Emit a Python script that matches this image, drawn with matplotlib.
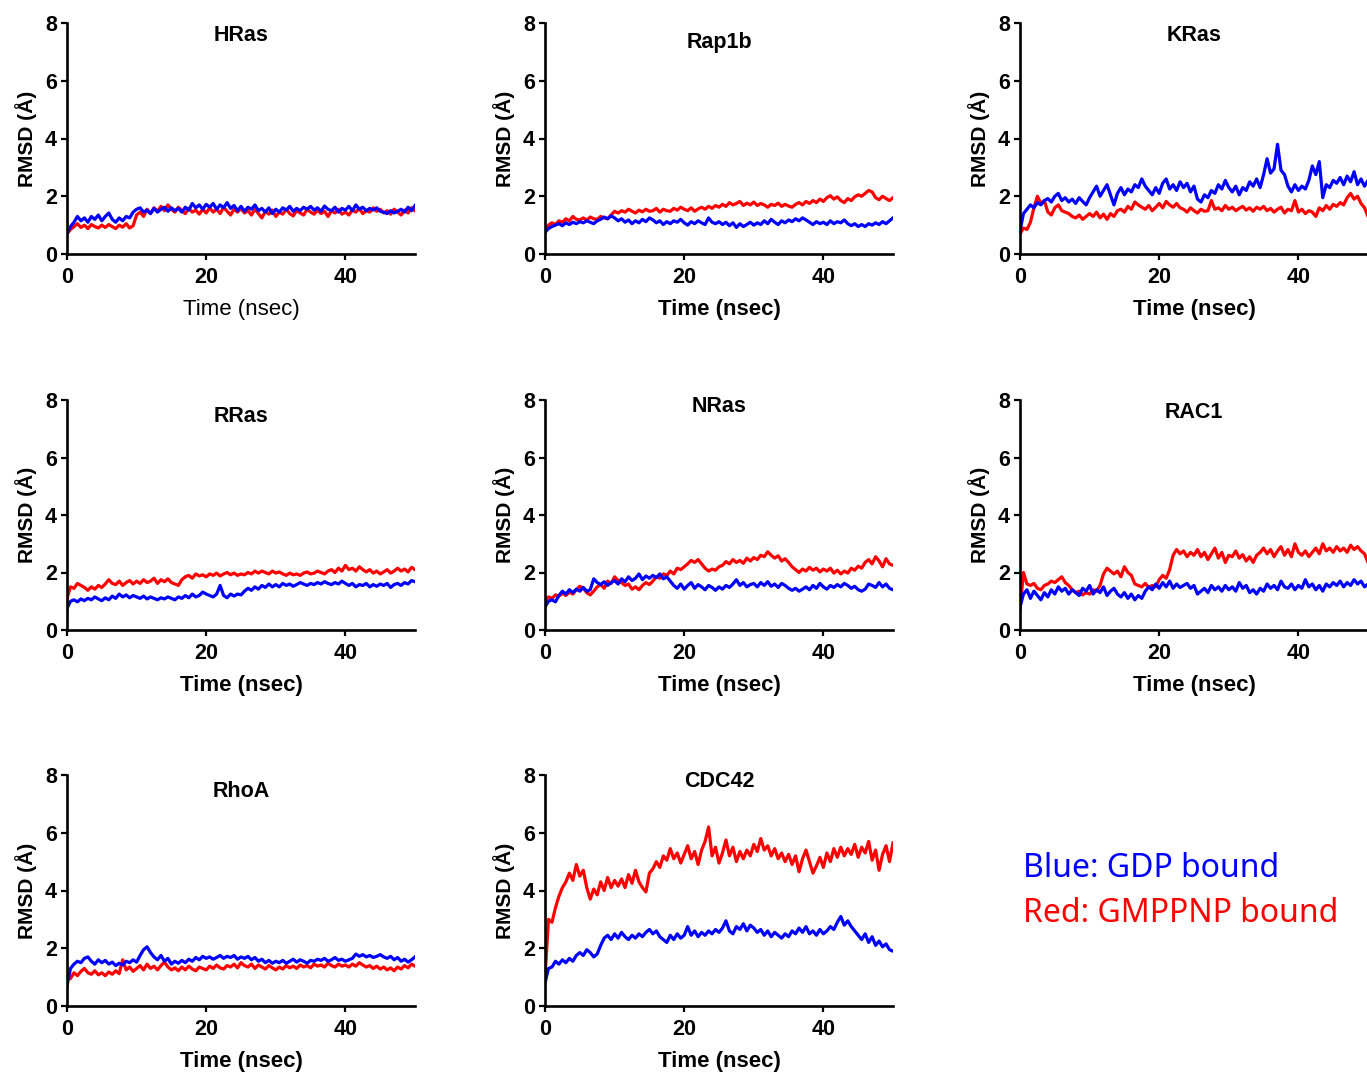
import numpy as np
import matplotlib.pyplot as plt

plt.rcParams['font.family'] = ['Liberation Sans', 'DejaVu Sans']

# time axis of the trajectories, one sample every 0.5 ns
time_ns = np.arange(0, 50.01, 0.5)

proteins = ['HRas', 'Rap1b', 'KRas', 'RRas', 'NRas', 'RAC1', 'RhoA', 'CDC42']

# RMSD (A), blue = GDP bound, red = GMPPNP bound
hras_gdp = [0.70, 0.95, 1.10, 1.30, 1.15, 1.25, 1.10, 1.30, 1.20, 1.35, 1.15,
            1.30, 1.42, 1.20, 1.10, 1.25, 1.15, 1.30, 1.25, 1.45, 1.55,
            1.60, 1.45, 1.52, 1.40, 1.58, 1.45, 1.55, 1.62, 1.48, 1.60,
            1.50, 1.58, 1.45, 1.62, 1.52, 1.75, 1.60, 1.70, 1.55, 1.72,
            1.62, 1.75, 1.55, 1.70, 1.60, 1.78, 1.58, 1.68, 1.50, 1.65,
            1.48, 1.62, 1.55, 1.70, 1.50, 1.58, 1.45, 1.60, 1.40, 1.55,
            1.45, 1.60, 1.52, 1.65, 1.48, 1.58, 1.50, 1.62, 1.55, 1.65,
            1.52, 1.60, 1.48, 1.66, 1.55, 1.50, 1.62, 1.45, 1.58, 1.52,
            1.65, 1.50, 1.70, 1.55, 1.62, 1.50, 1.58, 1.52, 1.60, 1.48,
            1.45, 1.40, 1.50, 1.42, 1.48, 1.55, 1.45, 1.62, 1.50, 1.68]
hras_gmppnp = [0.70, 0.85, 0.95, 1.05, 0.92, 1.00, 0.88, 1.02, 0.95, 0.90, 1.00,
               0.92, 1.02, 0.95, 0.88, 1.00, 0.93, 1.05, 0.90, 0.98, 1.35,
               1.45, 1.30, 1.55, 1.40, 1.60, 1.48, 1.65, 1.50, 1.70, 1.55,
               1.45, 1.62, 1.50, 1.40, 1.58, 1.45, 1.52, 1.38, 1.55, 1.42,
               1.60, 1.45, 1.55, 1.40, 1.62, 1.48, 1.35, 1.55, 1.45, 1.58,
               1.42, 1.50, 1.35, 1.55, 1.40, 1.25, 1.48, 1.38, 1.52, 1.30,
               1.45, 1.38, 1.55, 1.40, 1.32, 1.50, 1.42, 1.35, 1.55, 1.45,
               1.38, 1.52, 1.40, 1.48, 1.30, 1.50, 1.42, 1.55, 1.38, 1.45,
               1.35, 1.52, 1.45, 1.58, 1.40, 1.50, 1.45, 1.60, 1.48, 1.55,
               1.42, 1.50, 1.38, 1.55, 1.45, 1.35, 1.52, 1.42, 1.60, 1.50]

rap1b_gdp = [0.75, 0.88, 0.95, 1.00, 1.05, 0.98, 1.08, 1.02, 1.10, 1.05, 1.12,
             1.08, 1.15, 1.10, 1.05, 1.15, 1.20, 1.28, 1.22, 1.32, 1.25,
             1.15, 1.22, 1.10, 1.18, 1.05, 1.15, 1.08, 1.20, 1.12, 1.25,
             1.18, 1.08, 1.15, 1.02, 1.12, 1.05, 1.15, 1.10, 1.20, 1.08,
             1.00, 1.12, 1.05, 1.15, 1.08, 1.02, 1.25, 1.10, 1.05, 1.12,
             1.02, 1.10, 0.98, 1.08, 0.92, 1.05, 0.95, 1.02, 1.10, 1.00,
             1.08, 1.02, 1.15, 1.05, 1.20, 1.10, 1.02, 1.15, 1.08, 1.18,
             1.12, 1.22, 1.15, 1.25, 1.18, 1.10, 1.02, 1.12, 1.05, 1.10,
             1.02, 1.15, 1.05, 1.12, 1.08, 1.18, 1.05, 0.98, 1.05, 0.95,
             1.02, 0.95, 1.05, 1.00, 1.08, 1.02, 1.12, 1.05, 1.15, 1.25]
rap1b_gmppnp = [0.80, 1.00, 1.08, 1.02, 1.15, 1.10, 1.22, 1.15, 1.30, 1.20, 1.18,
                1.25, 1.18, 1.28, 1.22, 1.20, 1.30, 1.25, 1.22, 1.35, 1.48,
                1.42, 1.50, 1.45, 1.55, 1.48, 1.42, 1.52, 1.46, 1.55, 1.48,
                1.50, 1.58, 1.45, 1.55, 1.50, 1.48, 1.58, 1.52, 1.62, 1.55,
                1.50, 1.60, 1.48, 1.56, 1.62, 1.55, 1.65, 1.58, 1.68, 1.62,
                1.72, 1.65, 1.78, 1.70, 1.75, 1.82, 1.68, 1.76, 1.70, 1.80,
                1.68, 1.75, 1.70, 1.62, 1.72, 1.68, 1.76, 1.65, 1.72, 1.66,
                1.62, 1.72, 1.78, 1.70, 1.82, 1.75, 1.85, 1.78, 1.90, 1.82,
                1.95, 2.02, 1.90, 1.98, 1.85, 1.78, 1.92, 1.85, 1.98, 2.05,
                2.00, 2.10, 2.20, 2.15, 1.95, 1.88, 2.00, 1.92, 1.85, 1.95]

kras_gdp = [0.80, 1.40, 1.55, 1.70, 1.60, 1.78, 1.70, 1.85, 1.92, 1.80, 2.00,
            2.10, 1.85, 1.95, 1.80, 1.90, 1.75, 1.95, 1.82, 1.70, 1.95,
            2.15, 2.35, 2.00, 2.20, 2.40, 2.05, 1.70, 2.10, 2.30, 2.05,
            2.25, 2.15, 2.40, 2.30, 2.60, 2.35, 2.20, 2.05, 2.30, 2.10,
            2.45, 2.60, 2.25, 2.40, 2.20, 2.50, 2.30, 2.45, 2.15, 2.35,
            1.90, 1.80, 2.05, 1.95, 2.20, 2.10, 2.40, 2.25, 2.55, 2.30,
            2.15, 2.35, 2.05, 2.30, 2.20, 2.50, 2.35, 2.60, 2.30, 2.75,
            3.30, 2.80, 2.95, 3.80, 2.90, 2.75, 2.35, 2.15, 2.40, 2.20,
            2.35, 2.25, 2.55, 3.05, 2.75, 3.20, 1.95, 2.40, 2.30, 2.55,
            2.45, 2.65, 2.40, 2.70, 2.50, 2.85, 2.40, 2.60, 2.35, 2.55]
kras_gmppnp = [0.70, 0.90, 0.85, 1.10, 1.60, 2.00, 1.75, 1.85, 1.45, 1.35, 1.60,
               1.70, 1.50, 1.45, 1.40, 1.30, 1.25, 1.35, 1.20, 1.30, 1.40,
               1.30, 1.45, 1.25, 1.38, 1.20, 1.40, 1.30, 1.50, 1.55, 1.45,
               1.65, 1.55, 1.80, 1.70, 1.62, 1.55, 1.68, 1.50, 1.62, 1.75,
               1.60, 1.82, 1.70, 1.62, 1.75, 1.60, 1.55, 1.45, 1.60, 1.50,
               1.42, 1.55, 1.48, 1.50, 1.85, 1.55, 1.60, 1.50, 1.68, 1.55,
               1.62, 1.50, 1.58, 1.65, 1.52, 1.60, 1.48, 1.62, 1.55, 1.65,
               1.50, 1.58, 1.45, 1.55, 1.62, 1.42, 1.55, 1.50, 1.85, 1.45,
               1.55, 1.40, 1.50, 1.45, 1.30, 1.60, 1.50, 1.68, 1.55, 1.72,
               1.65, 1.78, 1.70, 1.95, 2.10, 1.90, 2.00, 1.75, 1.60, 1.30]

rras_gdp = [0.75, 1.00, 1.05, 0.98, 1.08, 1.02, 1.10, 1.05, 1.15, 1.08, 1.02,
            1.12, 1.05, 1.18, 1.10, 1.25, 1.15, 1.22, 1.12, 1.20, 1.15,
            1.10, 1.18, 1.08, 1.15, 1.10, 1.05, 1.12, 1.08, 1.15, 1.10,
            1.05, 1.15, 1.10, 1.20, 1.12, 1.25, 1.15, 1.20, 1.32, 1.25,
            1.20, 1.15, 1.25, 1.55, 1.20, 1.12, 1.25, 1.18, 1.25, 1.22,
            1.35, 1.45, 1.38, 1.50, 1.42, 1.55, 1.48, 1.60, 1.50, 1.58,
            1.50, 1.62, 1.55, 1.60, 1.52, 1.58, 1.65, 1.60, 1.55, 1.62,
            1.58, 1.65, 1.60, 1.68, 1.62, 1.58, 1.65, 1.60, 1.70, 1.62,
            1.55, 1.62, 1.50, 1.58, 1.55, 1.62, 1.50, 1.58, 1.52, 1.60,
            1.55, 1.62, 1.48, 1.58, 1.62, 1.55, 1.65, 1.60, 1.72, 1.68]
rras_gmppnp = [1.10, 1.50, 1.45, 1.62, 1.55, 1.48, 1.38, 1.50, 1.42, 1.55, 1.48,
               1.60, 1.75, 1.62, 1.58, 1.70, 1.55, 1.65, 1.72, 1.60, 1.70,
               1.62, 1.75, 1.65, 1.70, 1.80, 1.62, 1.75, 1.68, 1.78, 1.65,
               1.60, 1.55, 1.75, 1.85, 1.90, 1.80, 1.95, 1.88, 1.92, 1.85,
               1.95, 1.90, 1.98, 1.88, 1.95, 2.00, 1.92, 1.98, 1.90, 1.95,
               1.92, 2.00, 1.95, 2.05, 1.98, 2.05, 2.00, 1.95, 2.05, 1.98,
               2.02, 1.95, 1.90, 1.98, 1.92, 1.95, 1.90, 1.98, 2.02, 1.95,
               1.98, 2.05, 2.00, 1.95, 2.05, 2.10, 2.00, 2.15, 2.05, 2.25,
               2.10, 2.15, 2.05, 2.20, 2.10, 2.02, 2.10, 1.98, 2.05, 1.95,
               2.02, 2.10, 1.98, 2.05, 2.15, 2.05, 2.12, 2.02, 2.18, 2.10]

nras_gdp = [0.80, 1.00, 1.05, 0.98, 1.20, 1.35, 1.25, 1.40, 1.30, 1.42, 1.35,
            1.48, 1.35, 1.40, 1.78, 1.65, 1.58, 1.68, 1.55, 1.65, 1.72,
            1.60, 1.78, 1.68, 1.85, 1.72, 1.80, 1.95, 1.75, 1.88, 1.80,
            1.90, 1.82, 1.95, 1.78, 1.85, 1.70, 1.55, 1.45, 1.60, 1.42,
            1.55, 1.65, 1.45, 1.58, 1.50, 1.40, 1.55, 1.48, 1.38, 1.50,
            1.42, 1.55, 1.48, 1.60, 1.75, 1.55, 1.65, 1.50, 1.58, 1.62,
            1.50, 1.65, 1.55, 1.68, 1.52, 1.60, 1.48, 1.62, 1.55, 1.45,
            1.38, 1.45, 1.35, 1.42, 1.50, 1.40, 1.55, 1.45, 1.62, 1.50,
            1.42, 1.55, 1.48, 1.58, 1.50, 1.62, 1.55, 1.45, 1.52, 1.40,
            1.35, 1.42, 1.60, 1.55, 1.48, 1.65, 1.50, 1.60, 1.45, 1.40]
nras_gmppnp = [1.00, 1.15, 1.10, 1.22, 1.18, 1.28, 1.20, 1.32, 1.25, 1.40, 1.52,
               1.45, 1.30, 1.22, 1.35, 1.50, 1.58, 1.45, 1.70, 1.62, 1.85,
               1.72, 1.65, 1.55, 1.60, 1.42, 1.50, 1.40, 1.55, 1.65, 1.58,
               1.70, 1.85, 1.80, 1.95, 1.90, 2.05, 1.95, 2.15, 2.10, 2.20,
               2.30, 2.42, 2.35, 2.45, 2.30, 2.15, 2.05, 2.12, 2.08, 2.20,
               2.25, 2.38, 2.30, 2.45, 2.35, 2.42, 2.32, 2.50, 2.40, 2.52,
               2.45, 2.60, 2.55, 2.72, 2.60, 2.50, 2.58, 2.40, 2.48, 2.35,
               2.20, 2.10, 2.00, 2.12, 2.05, 2.18, 2.08, 2.15, 2.02, 2.12,
               2.05, 2.15, 1.98, 2.08, 1.95, 2.05, 1.98, 2.15, 2.08, 2.22,
               2.15, 2.35, 2.45, 2.30, 2.55, 2.40, 2.20, 2.48, 2.30, 2.25]

rac1_gdp = [0.80, 1.25, 1.40, 1.10, 1.35, 1.20, 1.05, 1.30, 1.15, 1.40, 1.25,
            1.50, 1.35, 1.45, 1.25, 1.40, 1.30, 1.20, 1.45, 1.35, 1.55,
            1.25, 1.40, 1.30, 1.50, 1.20, 1.35, 1.45, 1.25, 1.15, 1.30,
            1.10, 1.25, 1.05, 1.20, 1.10, 1.35, 1.50, 1.40, 1.60, 1.45,
            1.65, 1.50, 1.70, 1.45, 1.60, 1.48, 1.55, 1.62, 1.45, 1.55,
            1.25, 1.35, 1.45, 1.30, 1.55, 1.40, 1.50, 1.35, 1.55, 1.40,
            1.50, 1.35, 1.65, 1.45, 1.55, 1.30, 1.40, 1.25, 1.45, 1.35,
            1.60, 1.45, 1.55, 1.40, 1.70, 1.50, 1.45, 1.60, 1.40, 1.55,
            1.45, 1.75, 1.50, 1.60, 1.40, 1.55, 1.35, 1.60, 1.50, 1.65,
            1.55, 1.70, 1.50, 1.65, 1.55, 1.75, 1.60, 1.70, 1.50, 1.60]
rac1_gmppnp = [0.70, 2.00, 1.60, 1.55, 1.62, 1.45, 1.40, 1.55, 1.60, 1.70, 1.65,
               1.75, 1.85, 1.65, 1.55, 1.40, 1.30, 1.35, 1.22, 1.30, 1.25,
               1.40, 1.35, 1.55, 1.95, 2.15, 2.05, 1.95, 2.05, 1.85, 2.20,
               2.00, 1.90, 1.60, 1.55, 1.50, 1.62, 1.48, 1.55, 1.50, 1.75,
               1.90, 1.80, 2.10, 2.60, 2.80, 2.65, 2.75, 2.55, 2.70, 2.60,
               2.80, 2.55, 2.70, 2.45, 2.65, 2.85, 2.50, 2.70, 2.35, 2.60,
               2.55, 2.75, 2.50, 2.62, 2.40, 2.55, 2.35, 2.60, 2.70, 2.85,
               2.65, 2.80, 2.55, 2.75, 2.90, 2.60, 2.80, 2.55, 3.00, 2.70,
               2.60, 2.75, 2.55, 2.70, 2.85, 2.65, 3.00, 2.75, 2.85, 2.70,
               2.90, 2.75, 2.85, 2.70, 2.95, 2.80, 2.90, 2.75, 2.65, 2.35]

rhoa_gdp = [0.70, 1.30, 1.45, 1.55, 1.50, 1.65, 1.70, 1.55, 1.45, 1.60, 1.50,
            1.58, 1.45, 1.52, 1.40, 1.48, 1.42, 1.55, 1.50, 1.60, 1.52,
            1.75, 1.95, 2.05, 1.85, 1.70, 1.60, 1.75, 1.55, 1.65, 1.45,
            1.55, 1.48, 1.58, 1.50, 1.62, 1.55, 1.68, 1.60, 1.72, 1.65,
            1.70, 1.62, 1.68, 1.75, 1.65, 1.72, 1.68, 1.75, 1.62, 1.70,
            1.65, 1.72, 1.60, 1.68, 1.55, 1.62, 1.50, 1.58, 1.48, 1.55,
            1.50, 1.58, 1.48, 1.55, 1.62, 1.52, 1.60, 1.55, 1.48, 1.58,
            1.55, 1.62, 1.58, 1.65, 1.55, 1.60, 1.68, 1.58, 1.62, 1.55,
            1.60, 1.65, 1.80, 1.72, 1.78, 1.70, 1.75, 1.68, 1.72, 1.78,
            1.70, 1.65, 1.72, 1.60, 1.68, 1.55, 1.62, 1.52, 1.60, 1.70]
rhoa_gmppnp = [1.00, 0.95, 1.15, 1.05, 1.20, 1.30, 1.15, 1.10, 1.22, 1.08, 1.15,
               1.05, 1.18, 1.10, 1.22, 1.12, 1.60, 1.25, 1.35, 1.20, 1.30,
               1.40, 1.25, 1.45, 1.30, 1.38, 1.25, 1.40, 1.52, 1.35, 1.25,
               1.32, 1.22, 1.35, 1.25, 1.38, 1.28, 1.22, 1.35, 1.30, 1.25,
               1.38, 1.30, 1.42, 1.32, 1.28, 1.40, 1.35, 1.45, 1.32, 1.50,
               1.40, 1.35, 1.45, 1.30, 1.42, 1.35, 1.28, 1.40, 1.32, 1.25,
               1.35, 1.28, 1.40, 1.32, 1.38, 1.30, 1.42, 1.35, 1.40, 1.32,
               1.45, 1.38, 1.42, 1.35, 1.48, 1.40, 1.35, 1.45, 1.38, 1.42,
               1.35, 1.45, 1.38, 1.50, 1.42, 1.35, 1.40, 1.30, 1.38, 1.28,
               1.35, 1.25, 1.32, 1.22, 1.35, 1.28, 1.40, 1.32, 1.45, 1.38]

cdc42_gdp = [0.80, 1.30, 1.35, 1.55, 1.45, 1.60, 1.50, 1.65, 1.55, 1.75, 1.85,
             1.75, 1.95, 1.85, 1.70, 1.80, 2.10, 2.35, 2.45, 2.30, 2.50,
             2.35, 2.55, 2.40, 2.30, 2.45, 2.35, 2.50, 2.40, 2.55, 2.65,
             2.50, 2.60, 2.40, 2.30, 2.20, 2.45, 2.30, 2.50, 2.35, 2.45,
             2.75, 2.45, 2.60, 2.40, 2.55, 2.45, 2.60, 2.50, 2.65, 2.55,
             2.70, 2.95, 2.60, 2.50, 2.75, 2.65, 2.85, 2.60, 2.80, 2.70,
             2.55, 2.65, 2.45, 2.60, 2.40, 2.55, 2.45, 2.35, 2.50, 2.40,
             2.60, 2.50, 2.70, 2.55, 2.75, 2.50, 2.60, 2.45, 2.65, 2.50,
             2.60, 2.75, 2.65, 2.90, 3.10, 2.80, 2.95, 2.75, 2.60, 2.45,
             2.30, 2.50, 2.20, 2.40, 2.10, 2.25, 2.05, 2.15, 1.95, 1.90]
cdc42_gmppnp = [1.00, 3.00, 2.90, 3.40, 3.80, 4.10, 4.30, 4.60, 4.35, 4.90, 4.50,
                4.70, 4.10, 3.70, 4.05, 3.85, 4.30, 4.00, 4.45, 4.10, 4.35,
                4.15, 4.40, 4.10, 4.55, 4.25, 4.70, 4.30, 4.10, 3.95, 4.60,
                4.75, 5.00, 4.80, 5.20, 5.05, 5.45, 5.10, 5.30, 4.95, 5.25,
                5.55, 5.10, 5.35, 4.90, 5.40, 5.70, 6.20, 5.20, 5.50, 4.95,
                5.30, 5.75, 5.20, 5.50, 5.00, 5.35, 5.10, 5.40, 5.20, 5.60,
                5.35, 5.80, 5.40, 5.55, 5.20, 5.45, 5.10, 5.30, 5.00, 5.25,
                4.90, 5.20, 4.65, 5.10, 5.40, 5.00, 4.60, 4.85, 5.15, 4.80,
                5.30, 5.00, 5.45, 5.15, 5.50, 5.20, 5.45, 5.25, 5.60, 5.15,
                5.50, 5.30, 5.70, 5.05, 5.40, 4.70, 5.25, 5.55, 5.00, 5.65]

gdp_series = [hras_gdp, rap1b_gdp, kras_gdp, rras_gdp, nras_gdp, rac1_gdp, rhoa_gdp, cdc42_gdp]
gmppnp_series = [hras_gmppnp, rap1b_gmppnp, kras_gmppnp, rras_gmppnp,
                 nras_gmppnp, rac1_gmppnp, rhoa_gmppnp, cdc42_gmppnp]

W, H = 1367, 1072
fig = plt.figure(figsize=(W / 100, H / 100), dpi=100)

col_left = [67, 545, 1020]
row_top = [23, 400, 775]
row_bottom = [254, 630, 1006]
title_y = [7.58, 7.31, 7.58, 7.44, 7.76, 7.58, 7.44, 7.79]

for i, name in enumerate(proteins):
    r, c = divmod(i, 3)
    rect = [col_left[c] / W, 1 - row_bottom[r] / H, 348 / W, (row_bottom[r] - row_top[r]) / H]
    ax = fig.add_axes(rect)
    ax.plot(time_ns, gmppnp_series[i], color='#ff0000', lw=2.3)
    ax.plot(time_ns, gdp_series[i], color='#0000ff', lw=2.3)
    ax.set_xlim(0, 50)
    ax.set_ylim(0, 8)
    ax.set_xticks([0, 20, 40])
    ax.set_yticks([0, 2, 4, 6, 8])
    for s in ['top', 'right']:
        ax.spines[s].set_visible(False)
    for s in ['left', 'bottom']:
        ax.spines[s].set_linewidth(1.9)
    ax.tick_params(direction='out', length=4.3, width=1.6, labelsize=15.5)
    ax.tick_params(axis='x', pad=5)
    ax.tick_params(axis='y', pad=3)
    for lab in ax.get_xticklabels() + ax.get_yticklabels():
        lab.set_fontweight('bold')
    ax.set_ylabel('RMSD (Å)', fontsize=15, fontweight='bold', labelpad=6)
    # first panel has a plain x label in the original
    ax.set_xlabel('Time (nsec)', fontsize=16, fontweight='normal' if i == 0 else 'bold',
                  labelpad=8)
    ax.text(25, title_y[i], name, ha='center', va='center', fontsize=15.5, fontweight='bold')

fig.text(1023 / W, 1 - 877 / H, 'Blue: GDP bound', color='#0000ff', fontsize=23,
         family=['Noto Sans', 'DejaVu Sans'], va='baseline')
fig.text(1023 / W, 1 - 922 / H, 'Red: GMPPNP bound', color='#ff0000', fontsize=23,
         family=['Noto Sans', 'DejaVu Sans'], va='baseline')

fig.savefig('out.png', dpi=100)
